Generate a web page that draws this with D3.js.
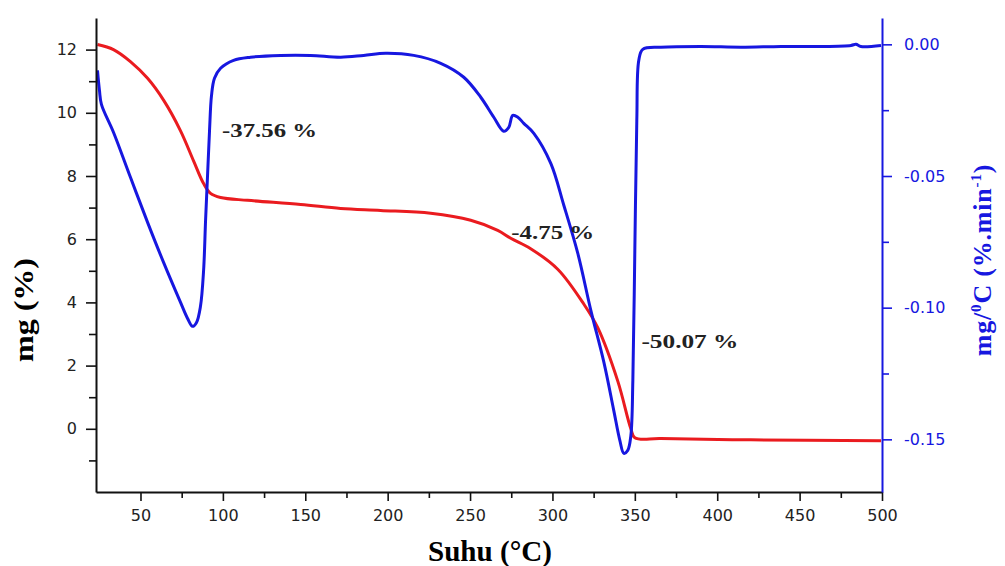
<!DOCTYPE html>
<html>
<head>
<meta charset="utf-8">
<script src="https://cdn.jsdelivr.net/npm/d3@7"></script>
<style>
  body { margin: 0; background: #fff; }
  svg { display: block; }
</style>
</head>
<body>
<svg id="chart" width="1005" height="566"></svg>
<script>
// Thermogravimetric curve (TG): temperature in °C, mass in %
const tgTemp = [23.9, 33.6, 43.9, 54.3, 64.0, 74.3, 82.2, 88.3, 92.5, 98.6, 115.0, 147.2, 171.5, 195.7, 226.1, 250.4, 266.8, 274.7, 286.8, 303.2, 319.0, 327.5, 339.7, 347.6, 350.0, 365.8, 420.4, 499.4];
const tgMass = [12.16, 12.00, 11.62, 11.09, 10.40, 9.43, 8.48, 7.76, 7.45, 7.32, 7.23, 7.10, 6.97, 6.91, 6.82, 6.60, 6.28, 6.03, 5.70, 5.05, 3.95, 3.20, 1.50, 0.00, -0.28, -0.31, -0.35, -0.38];

// Derivative curve (DTG): temperature in °C, rate in %/°C
const dtgTemp = [23.9, 25.1, 26.3, 33.6, 43.9, 54.3, 64.0, 74.3, 78.5, 81.6, 84.0, 86.4, 88.3, 89.5, 90.7, 91.9, 93.1, 94.9, 98.6, 106.5, 116.8, 135.0, 153.2, 171.5, 185.4, 198.8, 215.8, 232.2, 246.2, 256.5, 264.4, 270.4, 273.5, 275.9, 279.0, 282.6, 288.7, 299.0, 306.9, 315.4, 323.3, 331.2, 337.2, 340.9, 343.3, 345.7, 347.6, 348.8, 350.0, 351.2, 352.4, 354.8, 365.8, 390.1, 414.4, 438.7, 463.0, 481.2, 484.2, 487.2, 499.4];
const dtgRate = [-0.0099, -0.0175, -0.0228, -0.0334, -0.0505, -0.0676, -0.0828, -0.0980, -0.1040, -0.1071, -0.1056, -0.0995, -0.0858, -0.0668, -0.0497, -0.0327, -0.0194, -0.0129, -0.0091, -0.0061, -0.0049, -0.0042, -0.0042, -0.0049, -0.0042, -0.0034, -0.0042, -0.0072, -0.0125, -0.0201, -0.0277, -0.0330, -0.0315, -0.0270, -0.0277, -0.0300, -0.0338, -0.0452, -0.0611, -0.0794, -0.1010, -0.1207, -0.1390, -0.1504, -0.1553, -0.1542, -0.1485, -0.1276, -0.0782, -0.0289, -0.0061, -0.0019, -0.0011, -0.0008, -0.0011, -0.0008, -0.0008, -0.0004, 0.0000, -0.0008, -0.0004];

// Tick values
const xTicks = [50, 100, 150, 200, 250, 300, 350, 400, 450, 500];
const xMinor = [75, 125, 175, 225, 275, 325, 375, 425, 475];
const leftTicks = [0, 2, 4, 6, 8, 10, 12];
const leftMinor = [-1, 1, 3, 5, 7, 9, 11];
const rightTicks = [0, -0.05, -0.10, -0.15];
const rightMinor = [-0.025, -0.075, -0.125];

// Mass-loss annotations: [temperature, mass, text]
const stepLabels = [
  { t: 99.5, m: 9.25, text: "-37.56 %", w: 95 },
  { t: 275.0, m: 6.0, text: "-4.75 %", w: 83 },
  { t: 354.0, m: 2.55, text: "-50.07 %", w: 97 }
];

const RED = "#ea1b1f";
const BLUE = "#1717e0";

const svg = d3.select("#chart");
const L = 96, R = 882, T = 18, B = 492;

const x = d3.scaleLinear().domain([23, 500]).range([L, R]);
const yL = d3.scaleLinear().domain([-2, 13]).range([B, T]);
const yR = d3.scaleLinear().domain([-0.17, 0.01]).range([B, T]);

const tickFont = "'DejaVu Sans', Verdana, sans-serif";
const serif = "'Liberation Serif', 'Times New Roman', serif";

// Curves
const smooth = d3.curveCatmullRom.alpha(0.5);
const tgLine = d3.line().x(d => x(d[0])).y(d => yL(d[1])).curve(smooth);
const dtgLine = d3.line().x(d => x(d[0])).y(d => yR(d[1])).curve(smooth);

svg.append("path")
  .datum(tgTemp.map((t, i) => [t, tgMass[i]]))
  .attr("d", tgLine)
  .attr("fill", "none").attr("stroke", RED).attr("stroke-width", 3).attr("stroke-linejoin", "round");

svg.append("path")
  .datum(dtgTemp.map((t, i) => [t, dtgRate[i]]))
  .attr("d", dtgLine)
  .attr("fill", "none").attr("stroke", BLUE).attr("stroke-width", 3).attr("stroke-linejoin", "round");

// Axes
function styleAxis(g, color, textColor) {
  g.select(".domain").attr("stroke", color).attr("stroke-width", 2);
  g.selectAll(".tick line").attr("stroke", color).attr("stroke-width", 1.6);
  g.selectAll(".tick text").attr("fill", textColor).attr("font-family", tickFont).attr("font-size", 16);
}

const gx = svg.append("g").attr("transform", `translate(0,${B})`)
  .call(d3.axisBottom(x).tickValues(xTicks).tickSize(9).tickPadding(9).tickSizeOuter(0));
styleAxis(gx, "#111", "#222");
svg.append("g").attr("transform", `translate(0,${B})`)
  .call(d3.axisBottom(x).tickValues(xMinor).tickSize(6).tickFormat("").tickSizeOuter(0))
  .call(g => { g.select(".domain").remove(); g.selectAll("line").attr("stroke", "#111").attr("stroke-width", 1.6); });

const gl = svg.append("g").attr("transform", `translate(${L},0)`)
  .call(d3.axisLeft(yL).tickValues(leftTicks).tickSize(10).tickPadding(9).tickSizeOuter(0));
styleAxis(gl, "#111", "#222");
svg.append("g").attr("transform", `translate(${L},0)`)
  .call(d3.axisLeft(yL).tickValues(leftMinor).tickSize(7).tickFormat("").tickSizeOuter(0))
  .call(g => { g.select(".domain").remove(); g.selectAll("line").attr("stroke", "#111").attr("stroke-width", 1.6); });

const gr = svg.append("g").attr("transform", `translate(${R},0)`)
  .call(d3.axisRight(yR).tickValues(rightTicks).tickSize(10).tickPadding(12).tickSizeOuter(0).tickFormat(d3.format(".2f")));
styleAxis(gr, BLUE, BLUE);
gr.selectAll(".tick text").text(d => d3.format(".2f")(d).replace("−", "-"));
svg.append("g").attr("transform", `translate(${R},0)`)
  .call(d3.axisRight(yR).tickValues(rightMinor).tickSize(7).tickFormat("").tickSizeOuter(0))
  .call(g => { g.select(".domain").remove(); g.selectAll("line").attr("stroke", BLUE).attr("stroke-width", 1.6); });

// Axis titles
svg.append("text")
  .attr("x", 490).attr("y", 561)
  .attr("text-anchor", "middle")
  .attr("font-family", serif).attr("font-weight", "bold").attr("font-size", 29)
  .attr("textLength", 124).attr("lengthAdjust", "spacingAndGlyphs")
  .text("Suhu (°C)");

svg.append("text")
  .attr("transform", "translate(33,310) rotate(-90)")
  .attr("text-anchor", "middle")
  .attr("font-family", serif).attr("font-weight", "bold").attr("font-size", 27)
  .attr("textLength", 104).attr("lengthAdjust", "spacingAndGlyphs")
  .text("mg (%)");

const rt = svg.append("text")
  .attr("transform", "translate(991,260) rotate(-90)")
  .attr("text-anchor", "middle")
  .attr("font-family", serif).attr("font-weight", "bold").attr("font-size", 26)
  .attr("letter-spacing", 0.8)
  .attr("fill", BLUE);
rt.append("tspan").text("mg/");
rt.append("tspan").attr("dy", -10).attr("font-size", 15).text("0");
rt.append("tspan").attr("dy", 10).text("C (%.min");
rt.append("tspan").attr("dy", -10).attr("font-size", 15).text("-1");
rt.append("tspan").attr("dy", 10).text(")");

// Step annotations
svg.selectAll(".step").data(stepLabels).join("text")
  .attr("class", "step")
  .attr("x", d => x(d.t)).attr("y", d => yL(d.m))
  .attr("font-family", serif).attr("font-weight", "bold").attr("font-size", 18)
  .attr("fill", "#222")
  .attr("textLength", d => d.w).attr("lengthAdjust", "spacingAndGlyphs")
  .text(d => d.text);
</script>
</body>
</html>
